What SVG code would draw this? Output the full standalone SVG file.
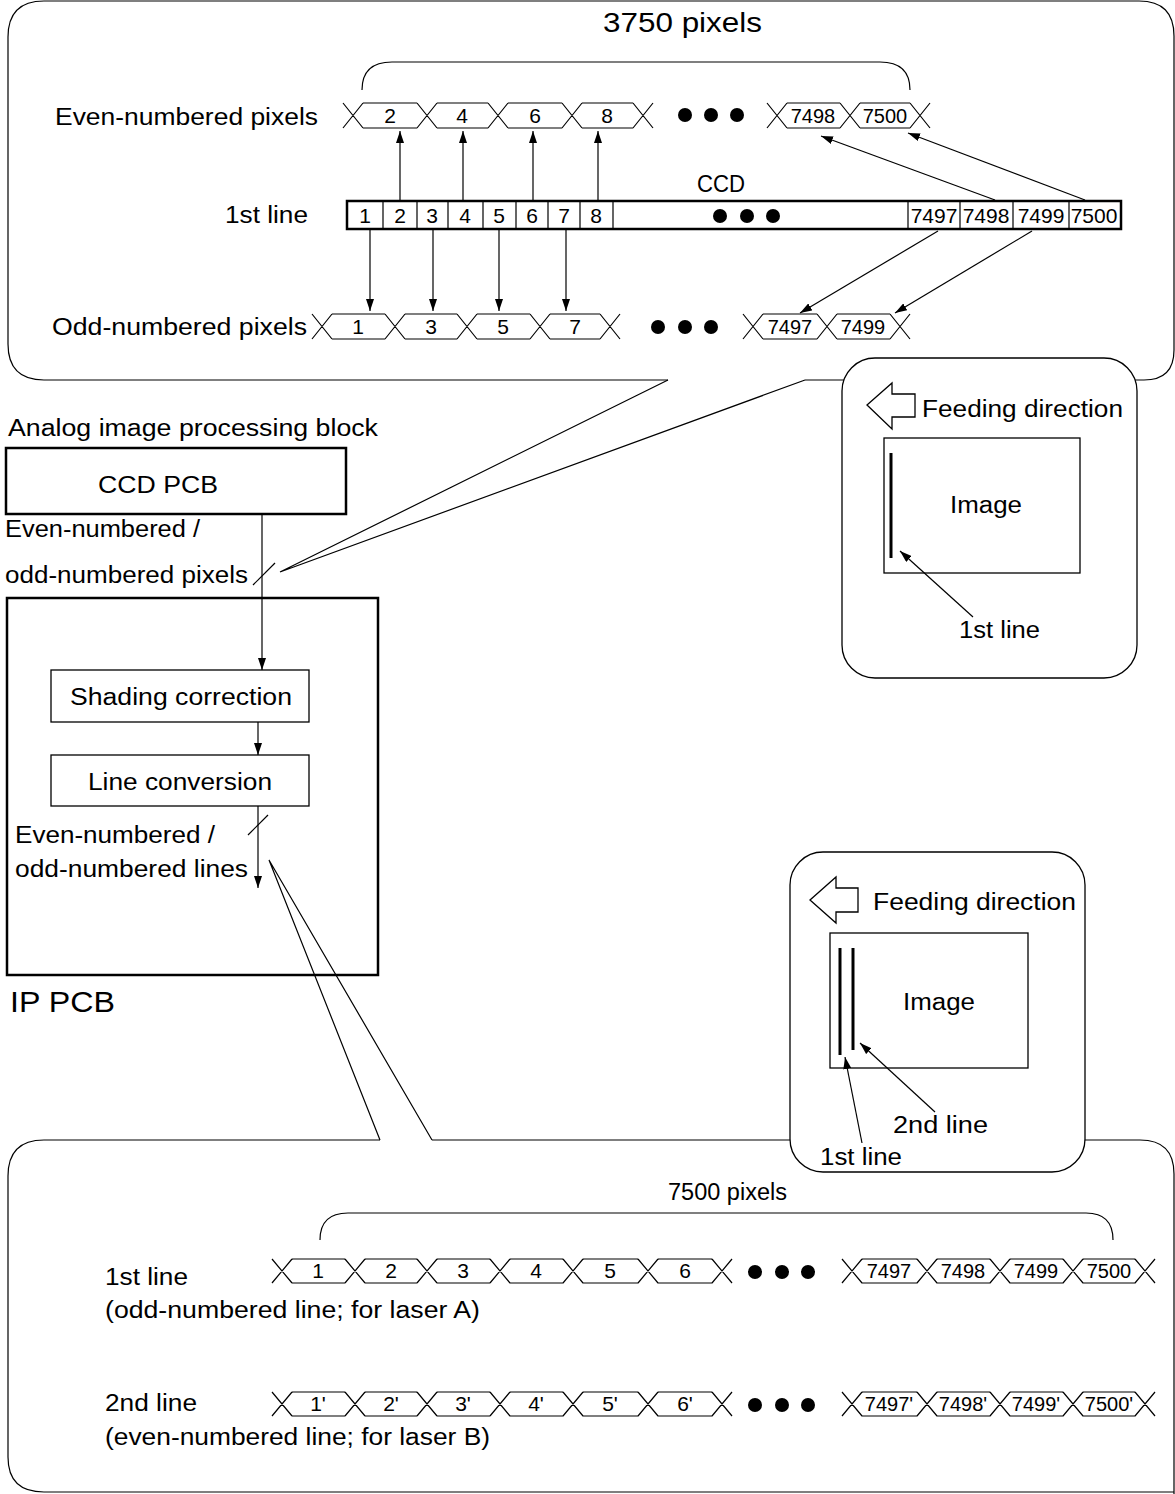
<svg xmlns="http://www.w3.org/2000/svg" width="1175" height="1494" viewBox="0 0 1175 1494">
<style>
text{font-family:"Liberation Sans",Arial,sans-serif;fill:#000}
.lb{font-size:23px}
.dg{font-size:21px;text-anchor:middle}
.d4{font-size:20px;text-anchor:middle}
.cc{font-size:21px;text-anchor:middle}
.ln{fill:none;stroke:#000;stroke-width:1.2}
.bx{fill:#fff;stroke:#000;stroke-width:1.3}
.wv{fill:none;stroke:#000;stroke-width:1.2}
.ar{fill:none;stroke:#000;stroke-width:1.2;marker-end:url(#ah)}
</style>
<defs>
<marker id="ah" viewBox="0 0 12 8" refX="12" refY="4" markerWidth="12" markerHeight="8" markerUnits="userSpaceOnUse" orient="auto">
<path d="M0,0 L12,4 L0,8 z" fill="#000"/>
</marker>
</defs>
<rect width="1175" height="1494" fill="#fff"/>

<g id="top-frame">
<path class="ln" d="M805,380 L1144,380 Q1174,380 1174,350 L1174,36 Q1174,1 1139,1 L44,1 Q8,1 8,37 L8,344 Q8,380 44,380 L668,380"/>
</g>
<g id="bottom-frame">
<path class="ln" d="M432,1140 L1140,1140 Q1174,1140 1174,1174 L1174,1494"/>
<path class="ln" d="M380,1140 L44,1140 Q8,1140 8,1176 L8,1457 Q8,1492 44,1492 L1174,1492"/>
</g>

<g id="top-brace">
<path class="ln" d="M362,90 Q362,62 392,62 L880,62 Q910,62 910,90"/>
<text x="603" y="32" style="font-size:27px" textLength="159" lengthAdjust="spacingAndGlyphs">3750 pixels</text>
</g>

<g id="even-row">
<text class="lb" x="55" y="125" textLength="263" lengthAdjust="spacingAndGlyphs">Even-numbered pixels</text>
<path class="wv" d="M343,103 L363,128 M343,128 L363,103 M417,103 L437,128 M417,128 L437,103 M488,103 L508,128 M488,128 L508,103 M562,103 L582,128 M562,128 L582,103 M633,103 L653,128 M633,128 L653,103 M363,103 H417 M363,128 H417 M437,103 H488 M437,128 H488 M508,103 H562 M508,128 H562 M582,103 H633 M582,128 H633"/>
<text class="dg" x="390" y="123">2</text>
<text class="dg" x="462" y="123">4</text>
<text class="dg" x="535" y="123">6</text>
<text class="dg" x="607" y="123">8</text>
<circle cx="685" cy="115" r="7"/><circle cx="711" cy="115" r="7"/><circle cx="737" cy="115" r="7"/>
<path class="wv" d="M767,103 L787,128 M767,128 L787,103 M840,103 L860,128 M840,128 L860,103 M910,103 L930,128 M910,128 L930,103 M787,103 H840 M787,128 H840 M860,103 H910 M860,128 H910"/>
<text class="d4" x="813" y="123">7498</text>
<text class="d4" x="885" y="123">7500</text>
</g>

<g id="ccd">
<text class="lb" x="697" y="192" textLength="48" lengthAdjust="spacingAndGlyphs">CCD</text>
<text class="lb" x="225" y="223" textLength="83" lengthAdjust="spacingAndGlyphs">1st line</text>
<rect x="347" y="201" width="774" height="28" fill="#fff" stroke="#000" stroke-width="2.5"/>
<path class="ln" d="M383,201 V229 M417,201 V229 M448,201 V229 M483,201 V229 M516,201 V229 M548,201 V229 M580,201 V229 M613,201 V229 M908,201 V229 M960,201 V229 M1013,201 V229 M1069,201 V229"/>
<text class="cc" x="365" y="223">1</text>
<text class="cc" x="400" y="223">2</text>
<text class="cc" x="432" y="223">3</text>
<text class="cc" x="465" y="223">4</text>
<text class="cc" x="499" y="223">5</text>
<text class="cc" x="532" y="223">6</text>
<text class="cc" x="564" y="223">7</text>
<text class="cc" x="596" y="223">8</text>
<circle cx="720" cy="216" r="7"/><circle cx="747" cy="216" r="7"/><circle cx="773" cy="216" r="7"/>
<text class="cc" x="934" y="223">7497</text>
<text class="cc" x="986" y="223">7498</text>
<text class="cc" x="1041" y="223">7499</text>
<text class="cc" x="1094" y="223">7500</text>
</g>

<g id="odd-row">
<text class="lb" x="52" y="335" textLength="255" lengthAdjust="spacingAndGlyphs">Odd-numbered pixels</text>
<path class="wv" d="M312,314 L332,339 M312,339 L332,314 M385,314 L405,339 M385,339 L405,314 M457,314 L477,339 M457,339 L477,314 M530,314 L550,339 M530,339 L550,314 M600,314 L620,339 M600,339 L620,314 M332,314 H385 M332,339 H385 M405,314 H457 M405,339 H457 M477,314 H530 M477,339 H530 M550,314 H600 M550,339 H600"/>
<text class="dg" x="358" y="334">1</text>
<text class="dg" x="431" y="334">3</text>
<text class="dg" x="503" y="334">5</text>
<text class="dg" x="575" y="334">7</text>
<circle cx="658" cy="327" r="7"/><circle cx="685" cy="327" r="7"/><circle cx="711" cy="327" r="7"/>
<path class="wv" d="M743,314 L763,339 M743,339 L763,314 M817,314 L837,339 M817,339 L837,314 M890,314 L910,339 M890,339 L910,314 M763,314 H817 M763,339 H817 M837,314 H890 M837,339 H890"/>
<text class="d4" x="790" y="334">7497</text>
<text class="d4" x="863" y="334">7499</text>
</g>

<g id="connectors">
<path class="ar" d="M400,201 V131"/>
<path class="ar" d="M463,201 V131"/>
<path class="ar" d="M533,201 V131"/>
<path class="ar" d="M598,201 V131"/>
<path class="ar" d="M370,229 V311"/>
<path class="ar" d="M433,229 V311"/>
<path class="ar" d="M499,229 V311"/>
<path class="ar" d="M566,229 V311"/>
<path class="ar" d="M995,200 L821,136"/>
<path class="ar" d="M1085,200 L908,133"/>
<path class="ar" d="M938,231 L800,313"/>
<path class="ar" d="M1032,231 L895,313"/>
<path class="ln" d="M668,380 L280,572 M805,380 L280,572"/>
<path class="ar" d="M262,515 V670"/>
<path class="ln" d="M253,585 L275,563"/>
<path class="ar" d="M258,722 V755"/>
<path class="ar" d="M258,806 V888"/>
<path class="ln" d="M248,835 L268,815"/>
<path class="ln" d="M269,860 L380,1140 M269,860 L432,1140"/>
</g>

<g id="analog-label">
<text class="lb" x="8" y="436" textLength="370" lengthAdjust="spacingAndGlyphs">Analog image processing block</text>
</g>
<g id="ccd-pcb">
<rect x="6" y="448" width="340" height="66" fill="#fff" stroke="#000" stroke-width="2.5"/>
<text class="lb" x="98" y="493" textLength="120" lengthAdjust="spacingAndGlyphs">CCD PCB</text>
</g>
<g id="signal-label-1">
<text class="lb" x="5" y="537" textLength="195" lengthAdjust="spacingAndGlyphs">Even-numbered /</text>
<text class="lb" x="5" y="583" textLength="243" lengthAdjust="spacingAndGlyphs">odd-numbered pixels</text>
</g>
<g id="ip-pcb">
<rect x="7" y="598" width="371" height="377" fill="none" stroke="#000" stroke-width="2.5"/>
<text x="10" y="1012" style="font-size:29px" textLength="105" lengthAdjust="spacingAndGlyphs">IP PCB</text>
</g>
<g id="shading">
<rect class="bx" x="51" y="670" width="258" height="52"/>
<text class="lb" x="70" y="705" textLength="222" lengthAdjust="spacingAndGlyphs">Shading correction</text>
</g>
<g id="line-conv">
<rect class="bx" x="51" y="755" width="258" height="51"/>
<text class="lb" x="88" y="790" textLength="184" lengthAdjust="spacingAndGlyphs">Line conversion</text>
</g>
<g id="signal-label-2">
<text class="lb" x="15" y="843" textLength="200" lengthAdjust="spacingAndGlyphs">Even-numbered /</text>
<text class="lb" x="15" y="877" textLength="233" lengthAdjust="spacingAndGlyphs">odd-numbered lines</text>
</g>

<g id="feed-box-1">
<rect class="bx" x="842" y="358" width="295" height="320" rx="33"/>
<polygon class="bx" points="867,405 892,383 892,394 915,394 915,417 892,417 892,429"/>
<text class="lb" x="922" y="417" textLength="201" lengthAdjust="spacingAndGlyphs">Feeding direction</text>
<rect class="bx" x="884" y="438" width="196" height="135"/>
<line x1="891" y1="453" x2="891" y2="558" stroke="#000" stroke-width="3"/>
<text class="lb" x="950" y="513" textLength="72" lengthAdjust="spacingAndGlyphs">Image</text>
<path class="ar" d="M973,617 L900,551"/>
<text class="lb" x="959" y="638" textLength="81" lengthAdjust="spacingAndGlyphs">1st line</text>
</g>

<g id="feed-box-2">
<rect class="bx" x="790" y="852" width="295" height="320" rx="33"/>
<polygon class="bx" points="810,900 836,877 836,888 858,888 858,912 836,912 836,923"/>
<text class="lb" x="873" y="910" textLength="203" lengthAdjust="spacingAndGlyphs">Feeding direction</text>
<rect class="bx" x="830" y="933" width="198" height="135"/>
<line x1="840" y1="948" x2="840" y2="1055" stroke="#000" stroke-width="3"/>
<line x1="853" y1="948" x2="853" y2="1050" stroke="#000" stroke-width="3"/>
<text class="lb" x="903" y="1010" textLength="72" lengthAdjust="spacingAndGlyphs">Image</text>
<path class="ar" d="M862,1143 L845,1057"/>
<path class="ar" d="M935,1112 L860,1043"/>
<text class="lb" x="893" y="1133" textLength="95" lengthAdjust="spacingAndGlyphs">2nd line</text>
<text class="lb" x="820" y="1165" textLength="82" lengthAdjust="spacingAndGlyphs">1st line</text>
</g>

<g id="bottom-brace">
<path class="ln" d="M320,1240 Q320,1213 348,1213 L1086,1213 Q1113,1213 1113,1240"/>
<text class="lb" x="668" y="1200" textLength="119" lengthAdjust="spacingAndGlyphs">7500 pixels</text>
</g>

<g id="line-1">
<text class="lb" x="105" y="1285" textLength="83" lengthAdjust="spacingAndGlyphs">1st line</text>
<text class="lb" x="105" y="1318" textLength="375" lengthAdjust="spacingAndGlyphs">(odd-numbered line; for laser A)</text>
<path class="wv" d="M272,1259 L292,1283 M272,1283 L292,1259 M345,1259 L365,1283 M345,1283 L365,1259 M417,1259 L437,1283 M417,1283 L437,1259 M490,1259 L510,1283 M490,1283 L510,1259 M563,1259 L583,1283 M563,1283 L583,1259 M638,1259 L658,1283 M638,1283 L658,1259 M712,1259 L732,1283 M712,1283 L732,1259 M292,1259 H345 M292,1283 H345 M365,1259 H417 M365,1283 H417 M437,1259 H490 M437,1283 H490 M510,1259 H563 M510,1283 H563 M583,1259 H638 M583,1283 H638 M658,1259 H712 M658,1283 H712"/>
<text class="dg" x="318" y="1278">1</text>
<text class="dg" x="391" y="1278">2</text>
<text class="dg" x="463" y="1278">3</text>
<text class="dg" x="536" y="1278">4</text>
<text class="dg" x="610" y="1278">5</text>
<text class="dg" x="685" y="1278">6</text>
<circle cx="755" cy="1272" r="7"/><circle cx="782" cy="1272" r="7"/><circle cx="808" cy="1272" r="7"/>
<path class="wv" d="M842,1259 L862,1283 M842,1283 L862,1259 M917,1259 L937,1283 M917,1283 L937,1259 M990,1259 L1010,1283 M990,1283 L1010,1259 M1063,1259 L1083,1283 M1063,1283 L1083,1259 M1135,1259 L1155,1283 M1135,1283 L1155,1259 M862,1259 H917 M862,1283 H917 M937,1259 H990 M937,1283 H990 M1010,1259 H1063 M1010,1283 H1063 M1083,1259 H1135 M1083,1283 H1135"/>
<text class="d4" x="889" y="1278">7497</text>
<text class="d4" x="963" y="1278">7498</text>
<text class="d4" x="1036" y="1278">7499</text>
<text class="d4" x="1109" y="1278">7500</text>
</g>

<g id="line-2">
<text class="lb" x="105" y="1411" textLength="92" lengthAdjust="spacingAndGlyphs">2nd line</text>
<text class="lb" x="105" y="1445" textLength="385" lengthAdjust="spacingAndGlyphs">(even-numbered line; for laser B)</text>
<path class="wv" d="M272,1392 L292,1416 M272,1416 L292,1392 M345,1392 L365,1416 M345,1416 L365,1392 M417,1392 L437,1416 M417,1416 L437,1392 M490,1392 L510,1416 M490,1416 L510,1392 M563,1392 L583,1416 M563,1416 L583,1392 M638,1392 L658,1416 M638,1416 L658,1392 M712,1392 L732,1416 M712,1416 L732,1392 M292,1392 H345 M292,1416 H345 M365,1392 H417 M365,1416 H417 M437,1392 H490 M437,1416 H490 M510,1392 H563 M510,1416 H563 M583,1392 H638 M583,1416 H638 M658,1392 H712 M658,1416 H712"/>
<text class="dg" x="318" y="1411">1'</text>
<text class="dg" x="391" y="1411">2'</text>
<text class="dg" x="463" y="1411">3'</text>
<text class="dg" x="536" y="1411">4'</text>
<text class="dg" x="610" y="1411">5'</text>
<text class="dg" x="685" y="1411">6'</text>
<circle cx="755" cy="1405" r="7"/><circle cx="782" cy="1405" r="7"/><circle cx="808" cy="1405" r="7"/>
<path class="wv" d="M842,1392 L862,1416 M842,1416 L862,1392 M917,1392 L937,1416 M917,1416 L937,1392 M990,1392 L1010,1416 M990,1416 L1010,1392 M1063,1392 L1083,1416 M1063,1416 L1083,1392 M1135,1392 L1155,1416 M1135,1416 L1155,1392 M862,1392 H917 M862,1416 H917 M937,1392 H990 M937,1416 H990 M1010,1392 H1063 M1010,1416 H1063 M1083,1392 H1135 M1083,1416 H1135"/>
<text class="d4" x="889" y="1411">7497'</text>
<text class="d4" x="963" y="1411">7498'</text>
<text class="d4" x="1036" y="1411">7499'</text>
<text class="d4" x="1109" y="1411">7500'</text>
</g>
</svg>
